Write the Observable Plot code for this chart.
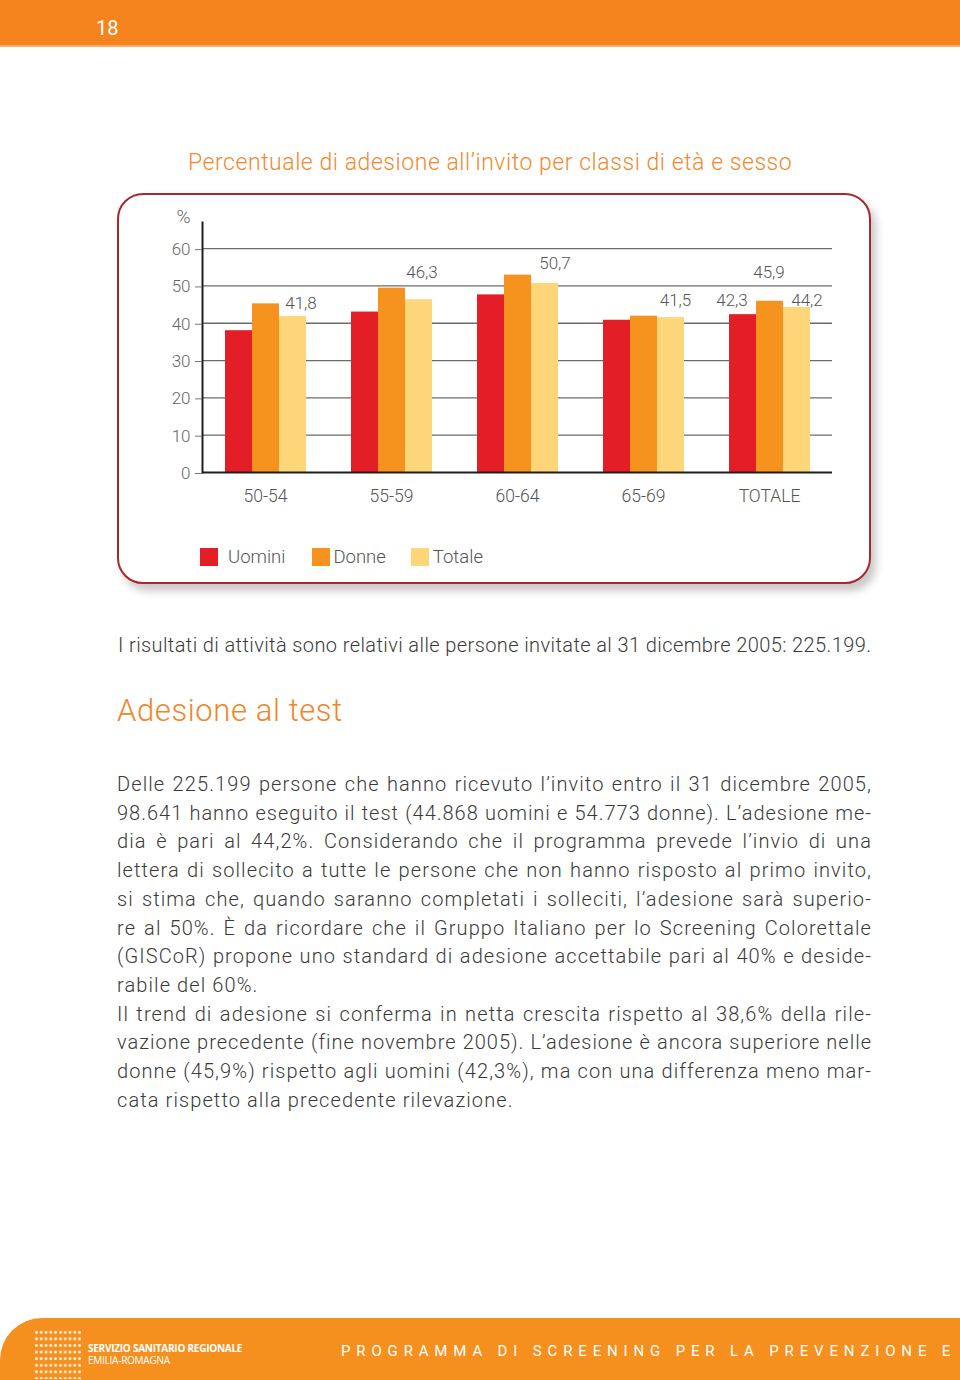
<!DOCTYPE html>
<html lang="it">
<head>
<meta charset="utf-8">
<script src="https://cdn.jsdelivr.net/npm/d3@7"></script>
<script src="https://cdn.jsdelivr.net/npm/@observablehq/plot@0.6"></script>
<style>
  html, body { margin: 0; padding: 0; background: #fff; }
  body { width: 960px; height: 1380px; position: relative; overflow: hidden; font-family: Roboto, "Noto Sans", sans-serif; }
  .abs { position: absolute; }
  #header { left: 0; top: 0; width: 960px; height: 45px; background: #f5841f; border-bottom: 2px solid #f7ab6c; }
  #pagenum { left: 96px; top: 14px; color: #fff; font-size: 20px; line-height: 28px; }
  #title { left: 188px; top: 148px; color: #ef8a2e; font-size: 23px; line-height: 30px; font-weight: 300; letter-spacing: 0.55px; white-space: nowrap; }
  #box { left: 117px; top: 193px; width: 750px; height: 387px; border: 2.5px solid #a8282f; border-radius: 26px; box-shadow: 5px 7px 9px rgba(0,0,0,0.22); background: #fff; }
  #chart { left: 117px; top: 200px; }
  #legend { left: 200px; top: 546px; font-size: 18.5px; color: #555; font-weight: 300; display: flex; align-items: center; }
  .sw { width: 18px; height: 18px; display: inline-block; }
  .lab { display: inline-block; line-height: 22px; }
  #note { left: 118px; top: 631px; font-size: 20px; line-height: 28px; color: #3a3a3a; font-weight: 300; letter-spacing: 0.4px; white-space: nowrap; }
  #h2 { left: 117px; top: 692px; font-size: 31px; line-height: 38px; color: #f0862a; font-weight: 300; letter-spacing: 0.6px; }
  #para { left: 117px; top: 770px; width: 755px; font-size: 20px; line-height: 28.7px; color: #3a3a3a; font-weight: 300; }
  #para div { text-align: justify; text-align-last: justify; white-space: nowrap; letter-spacing: 1.1px; }
  #para div.end { text-align-last: left; }
  #footer { left: 0; top: 1318px; width: 960px; height: 62px; background: #f5901f; border-top-left-radius: 42px; }
  #dots { left: 34px; top: 1329px; width: 48px; height: 50px;
    background-image: radial-gradient(circle, rgba(255,255,255,0.9) 1.1px, transparent 1.6px);
    background-size: 4.8px 6.6px; }
  #ssr { left: 88px; top: 1342px; color: #fff; font-size: 10px; line-height: 12px; font-family: "Open Sans", sans-serif; letter-spacing: -0.25px; white-space: nowrap; }
  #ssr b { font-weight: 700; }
  #prog { left: 341px; top: 1341px; color: #fff; font-size: 15px; line-height: 20px; letter-spacing: 5.85px; white-space: nowrap; }
</style>
</head>
<body>
<div id="header" class="abs"></div>
<div id="pagenum" class="abs">18</div>
<div id="title" class="abs">Percentuale di adesione all’invito per classi di età e sesso</div>
<div id="box" class="abs"></div>
<div id="chart" class="abs"></div>
<div id="legend" class="abs"></div>
<div id="note" class="abs">I risultati di attività sono relativi alle persone invitate al 31 dicembre 2005: 225.199.</div>
<div id="h2" class="abs">Adesione al test</div>
<div id="para" class="abs"></div>
<div id="footer" class="abs"></div>
<div id="dots" class="abs"></div>
<div id="ssr" class="abs"><b>SERVIZIO SANITARIO REGIONALE</b><br>EMILIA-ROMAGNA</div>
<div id="prog" class="abs">PROGRAMMA DI SCREENING PER LA PREVENZIONE E</div>

<script>
// ---- Data ----
const groups = ["50-54", "55-59", "60-64", "65-69", "TOTALE"];
const series = ["Uomini", "Donne", "Totale"];
const uomini = [38.0, 43.0, 47.6, 40.8, 42.3];
const donne  = [45.2, 49.4, 52.9, 41.9, 45.9];
const totale = [41.8, 46.3, 50.7, 41.5, 44.2];
const yTicks = [0, 10, 20, 30, 40, 50, 60];
const colors = ["#e31e26", "#f6931e", "#fdd67a"];
// bars that carry a value label: [group, series]
const labelled = [
  ["50-54", "Totale"], ["55-59", "Totale"], ["60-64", "Totale"], ["65-69", "Totale"],
  ["TOTALE", "Uomini"], ["TOTALE", "Donne"], ["TOTALE", "Totale"]
];
// label offsets (style)
const labelOffsets = [[8, -8], [3, -22], [10, -14], [4.5, -12], [-11, -9], [-1, -23], [10, -2]];

const paraLines = [
  "Delle 225.199 persone che hanno ricevuto l’invito entro il 31 dicembre 2005,",
  "98.641 hanno eseguito il test (44.868 uomini e 54.773 donne). L’adesione me-",
  "dia è pari al 44,2%. Considerando che il programma prevede l’invio di una",
  "lettera di sollecito a tutte le persone che non hanno risposto al primo invito,",
  "si stima che, quando saranno completati i solleciti, l’adesione sarà superio-",
  "re al 50%. È da ricordare che il Gruppo Italiano per lo Screening Colorettale",
  "(GISCoR) propone uno standard di adesione accettabile pari al 40% e deside-",
  "rabile del 60%.",
  "Il trend di adesione si conferma in netta crescita rispetto al 38,6% della rile-",
  "vazione precedente (fine novembre 2005). L’adesione è ancora superiore nelle",
  "donne (45,9%) rispetto agli uomini (42,3%), ma con una differenza meno mar-",
  "cata rispetto alla precedente rilevazione."
];
const paraEnds = [7, 11];

// ---- Build table ----
const valuesBySeries = [uomini, donne, totale];
const rows = groups.flatMap((g, i) => series.map((s, j) => ({group: g, series: s, value: valuesBySeries[j][i]})));
const fmt = v => v.toFixed(1).replace(".", ",");

const labelMarks = labelled.map(([g, s], k) =>
  Plot.text(rows.filter(r => r.group === g && r.series === s), {
    fx: "group", x: "series", y: "value", text: d => fmt(d.value),
    lineAnchor: "bottom", dx: labelOffsets[k][0], dy: labelOffsets[k][1],
    fontSize: 17, fill: "#555", fontWeight: 300
  })
);

const chart = Plot.plot({
  width: 755,
  height: 312,
  marginLeft: 85,
  marginRight: 40,
  marginTop: 22,
  marginBottom: 40,
  style: {fontFamily: "Roboto, 'Noto Sans', sans-serif", background: "transparent", overflow: "visible"},
  fx: {domain: groups, padding: 0, label: null},
  x: {domain: series, paddingInner: 0, paddingOuter: 0.777, axis: null},
  y: {domain: [0, 67], label: null},
  color: {domain: series, range: colors},
  marks: [
    Plot.gridY(yTicks.filter(t => t > 0), {stroke: "#6b6b6b", strokeOpacity: 1, strokeWidth: 1.3}),
    Plot.barY(rows, {fx: "group", x: "series", y: "value", fill: "series"}),
    Plot.ruleY([0], {stroke: "#1e1e1e", strokeWidth: 2}),
    Plot.frame({anchor: "left", facetAnchor: "left", stroke: "#1e1e1e", strokeWidth: 2}),
    Plot.axisY(yTicks, {tickSize: 7, tickPadding: 5, fontSize: 17, stroke: "#777", fill: "#666", label: null, dy: 1, fontWeight: 300}),
    Plot.text(["%"], {text: d => d, frameAnchor: "top-left", textAnchor: "end", lineAnchor: "bottom", dx: -12, dy: 0, fontSize: 19, fill: "#666", facetAnchor: "left", fontWeight: 300}),
    Plot.axisFx({anchor: "bottom", tickSize: 0, tickPadding: 17, fontSize: 17.5, fill: "#555", label: null, fontWeight: 300}),
    ...labelMarks
  ]
});
document.getElementById("chart").appendChild(chart);

// legend
const legend = document.getElementById("legend");
const gaps = [10, 3, 4];
const after = [27, 25, 0];
series.forEach((s, i) => {
  const sw = document.createElement("span");
  sw.className = "sw"; sw.style.background = colors[i];
  const lb = document.createElement("span");
  lb.className = "lab"; lb.textContent = s;
  lb.style.marginLeft = gaps[i] + "px"; lb.style.marginRight = after[i] + "px";
  legend.appendChild(sw); legend.appendChild(lb);
});

// paragraph
const para = document.getElementById("para");
paraLines.forEach((t, i) => {
  const d = document.createElement("div");
  d.textContent = t;
  if (paraEnds.includes(i)) d.className = "end";
  para.appendChild(d);
  // shrink letter-spacing if a line would overflow the column
  let ls = 1.1;
  while (d.scrollWidth > 755 && ls > -0.5) { ls -= 0.1; d.style.letterSpacing = ls + "px"; }
});
</script>
</body>
</html>
